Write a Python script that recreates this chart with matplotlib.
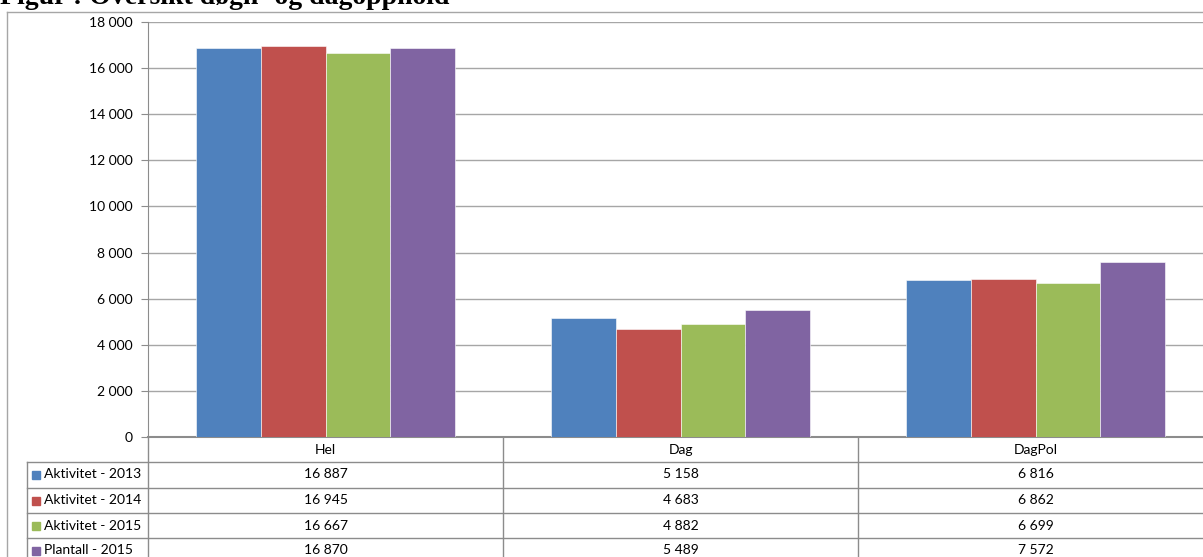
import numpy as np
import matplotlib
matplotlib.use("Agg")
import matplotlib.pyplot as plt
from matplotlib.transforms import blended_transform_factory

plt.rcParams['font.family'] = ['Lato', 'DejaVu Sans']

#%% data
categories = ["Hel", "Dag", "DagPol"]
series = ["Aktivitet - 2013", "Aktivitet - 2014", "Aktivitet - 2015", "Plantall - 2015"]
aktivitet_2013 = [16887, 5158, 6816]
aktivitet_2014 = [16945, 4683, 6862]
aktivitet_2015 = [16667, 4882, 6699]
plantall_2015 = [16870, 5489, 7572]
values = [aktivitet_2013, aktivitet_2014, aktivitet_2015, plantall_2015]
colors = ["#4F81BD", "#C0504D", "#9BBB59", "#8064A2"]
yticks = np.arange(0, 18001, 2000)

W, H = 1203, 557

def fx(px):
    return px / W

def fy(py):
    return 1 - py / H

def fmt(v):
    return "{:,}".format(int(v)).replace(",", " ")

#%% figure
fig = plt.figure(figsize=(W / 100, H / 100), dpi=100)

# axes runs past the right edge, like the cropped sheet
ax = fig.add_axes([fx(148), fy(437), fx(1065), fy(22) - fy(437)])

x = np.arange(len(categories))
bw = 0.1825
for i, (vals, c) in enumerate(zip(values, colors)):
    ax.bar(x + (i - 1.5) * bw, vals, width=bw, color=c,
           edgecolor="white", linewidth=0.4, zorder=3)

ax.set_xlim(-0.5, 2.5)
ax.set_ylim(0, 18000)
ax.set_yticks(yticks)
ax.set_yticklabels([fmt(t) for t in yticks], fontsize=10)
ax.set_xticks([])
ax.yaxis.grid(True, color="#A6A6A6", linewidth=1, zorder=0)
ax.tick_params(axis="y", length=5, color="#8C8C8C", pad=6)
for s in ["top", "right"]:
    ax.spines[s].set_visible(False)
ax.spines["left"].set_color("#8C8C8C")
ax.spines["bottom"].set_color("#8C8C8C")
ax.spines["bottom"].set_linewidth(1.5)

#%% data table under the chart
tr = blended_transform_factory(ax.transData, fig.transFigure)
line_col = "#8C8C8C"
rows_y = [462, 488, 513, 538]

# header row with category names
for xi, cat in zip(x, categories):
    fig.text(xi, fy(450), cat, transform=tr, ha="center", va="center", fontsize=10)

# horizontal rules
for ry in rows_y:
    fig.add_artist(plt.Line2D([fx(27), 1.0], [fy(ry), fy(ry)], color=line_col, lw=1))

# vertical rules
fig.add_artist(plt.Line2D([fx(148), fx(148)], [fy(437), 0], color=line_col, lw=1))
for xb in [0.5, 1.5]:
    fig.add_artist(plt.Line2D([xb, xb], [fy(437), 0], color=line_col, lw=1, transform=tr))
fig.add_artist(plt.Line2D([fx(27), fx(27)], [fy(462), 0], color=line_col, lw=1))

# series rows: swatch, name, values
for r, (name, vals, c) in enumerate(zip(series, values, colors)):
    yc = fy(rows_y[r] + 12.5)
    fig.add_artist(plt.Rectangle((fx(32), yc - 4 / H), 8 / W, 8 / H, color=c))
    fig.text(fx(44), yc, name, ha="left", va="center", fontsize=10)
    for xi, v in zip(x, vals):
        fig.text(xi, yc, fmt(v), transform=tr, ha="center", va="center", fontsize=10)

# outer chart frame
fig.add_artist(plt.Line2D([fx(7), 1.0], [fy(12), fy(12)], color="#A6A6A6", lw=1))
fig.add_artist(plt.Line2D([fx(7), fx(7)], [fy(12), 0], color="#A6A6A6", lw=1))

# heading above the chart
fig.text(0, fy(4), "Figur : Oversikt døgn- og dagopphold", family="Liberation Serif",
         fontweight="bold", fontsize=20, ha="left", va="baseline")

fig.savefig("out.png", dpi=100)
